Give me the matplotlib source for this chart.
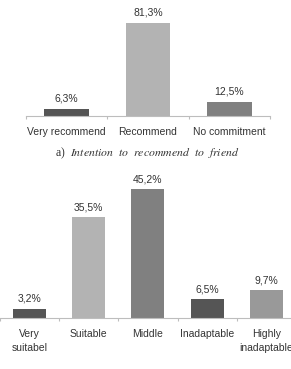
import matplotlib
matplotlib.use("Agg")
import matplotlib.pyplot as plt

plt.rcParams['font.family'] = ['Liberation Sans', 'DejaVu Sans']

# a) Intention to recommend to friend
rec_labels = ['Very recommend', 'Recommend', 'No commitment']
rec_values = [6.3, 81.3, 12.5]
rec_colors = ['#555555', '#b3b3b3', '#808080']

# b) suitability
suit_labels = ['Very\nsuitabel', 'Suitable', 'Middle', 'Inadaptable', 'Highly\ninadaptable']
suit_values = [3.2, 35.5, 45.2, 6.5, 9.7]
suit_colors = ['#555555', '#b3b3b3', '#808080', '#555555', '#999999']

caption = 'a)  $\\it{Intention}$  $\\it{to}$  $\\it{recommend}$  $\\it{to}$  $\\it{friend}$'

W, H = 291, 369
TXT = '#333333'
AXC = '#bdbdbd'


def fmt(v):
    return f'{v:.1f}'.replace('.', ',') + '%'


def bar_panel(ax, labels, values, colors, width, ymax):
    n = len(values)
    x = list(range(n))
    ax.bar(x, values, width=width, color=colors, zorder=2)
    for xi, v in zip(x, values):
        ax.annotate(fmt(v), (xi, v), xytext=(0, 3.5), textcoords='offset points',
                    ha='center', va='bottom', fontsize=7.5, color=TXT,
                    annotation_clip=False)
    ax.set_xlim(-0.5, n - 0.5)
    ax.set_ylim(0, ymax)
    for s in ('top', 'right', 'left'):
        ax.spines[s].set_visible(False)
    ax.spines['bottom'].set_color(AXC)
    ax.spines['bottom'].set_linewidth(0.8)
    ax.set_yticks([])
    ax.set_xticks(x)
    ax.set_xticklabels(labels, fontsize=7.5, color=TXT, linespacing=1.5, va='top')
    ax.tick_params(axis='x', which='major', length=0, pad=8)
    ax.set_xticks([i - 0.5 for i in range(n + 1)], minor=True)
    ax.tick_params(axis='x', which='minor', length=2.5, width=0.8, color=AXC, direction='out')
    ax.patch.set_visible(False)


fig = plt.figure(figsize=(W / 100, H / 100), dpi=100)

# top panel: axis line at y=116 px, 1.148 px per %
ax1 = fig.add_axes([26 / W, (H - 116) / H, 244 / W, 114.8 / H])
bar_panel(ax1, rec_labels, rec_values, rec_colors, 0.55, 100)

fig.text(147 / W, 1 - 153 / H, caption, ha='center', va='center',
         fontsize=8.5, family=['Liberation Serif', 'DejaVu Serif'], color=TXT,
         math_fontfamily='stix')

# bottom panel: axis line at y=317.7 px, 2.84 px per %
ax2 = fig.add_axes([-0.1 / W, (H - 317.7) / H, 296 / W, 142 / H])
bar_panel(ax2, suit_labels, suit_values, suit_colors, 0.56, 50)

fig.savefig('out.png', dpi=100)
